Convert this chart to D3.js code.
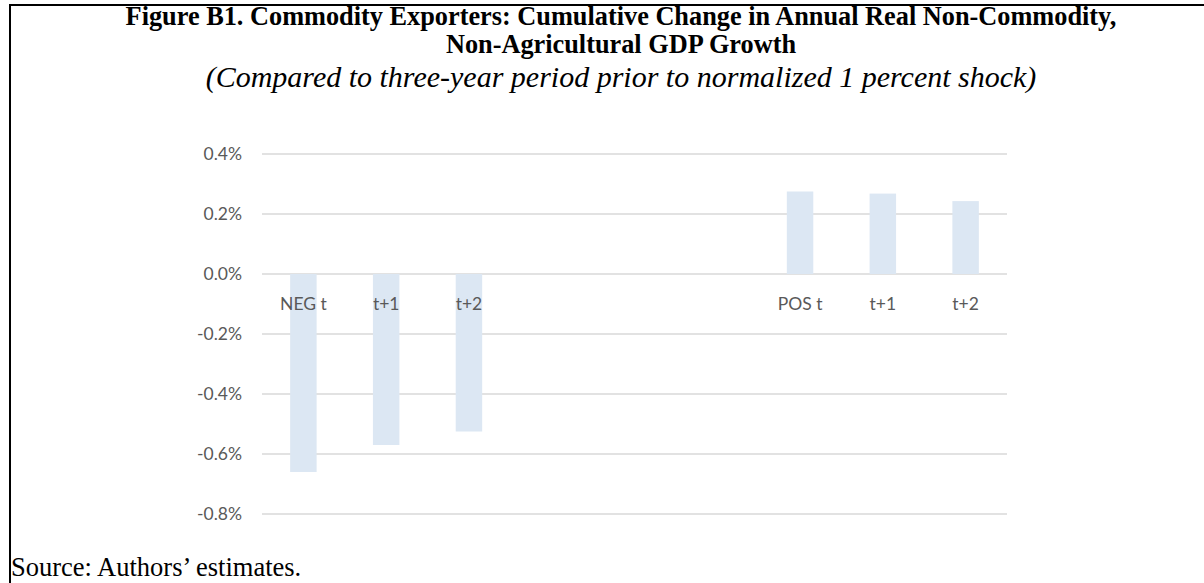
<!DOCTYPE html>
<html>
<head>
<meta charset="utf-8">
<script src="https://cdn.jsdelivr.net/npm/d3@7"></script>
<style>
  html, body { margin: 0; padding: 0; background: #fff; }
  svg { display: block; }
</style>
</head>
<body>
<svg id="chart" width="1204" height="583"></svg>
<script>
// Data
const categories = ['NEG t', 't+1', 't+2', '', '', '', 'POS t', 't+1', 't+2'];
const values = [-0.66, -0.57, -0.525, null, null, null, 0.275, 0.268, 0.243];
const yTicks = [0.4, 0.2, 0.0, -0.2, -0.4, -0.6, -0.8];

const svg = d3.select('#chart');
const width = +svg.attr('width');
const height = +svg.attr('height');
const serif = '"Liberation Serif", "Times New Roman", serif';

// Frame around the figure (right edge runs off the page)
svg.append('path')
    .attr('d', `M10,${height + 2} L10,5 L${width + 2},5`)
    .attr('fill', 'none')
    .attr('stroke', '#000')
    .attr('stroke-width', 2);

// Titles
const cx = 621;
svg.append('text')
    .attr('x', cx).attr('y', 25)
    .attr('text-anchor', 'middle')
    .attr('font-family', serif)
    .attr('font-weight', 'bold')
    .attr('font-size', 26.3)
    .text('Figure B1. Commodity Exporters: Cumulative Change in Annual Real Non-Commodity,');
svg.append('text')
    .attr('x', cx).attr('y', 53)
    .attr('text-anchor', 'middle')
    .attr('font-family', serif)
    .attr('font-weight', 'bold')
    .attr('font-size', 26.3)
    .text('Non-Agricultural GDP Growth');
svg.append('text')
    .attr('x', cx).attr('y', 87)
    .attr('text-anchor', 'middle')
    .attr('font-family', serif)
    .attr('font-style', 'italic')
    .attr('font-size', 30)
    .text('(Compared to three-year period prior to normalized 1 percent shock)');

// Scales
const x = d3.scaleBand()
    .domain(d3.range(categories.length))
    .range([262, 1007])
    .paddingInner(0.68)
    .paddingOuter(0.34);

const y = d3.scaleLinear()
    .domain([-0.8, 0.4])
    .range([514, 154]);

const labelFont = 'Lato, "Open Sans", sans-serif';

// Gridlines
svg.append('g')
    .selectAll('line')
    .data(yTicks)
    .join('line')
    .attr('x1', 262)
    .attr('x2', 1007)
    .attr('y1', d => y(d))
    .attr('y2', d => y(d))
    .attr('stroke', '#d9d9d9')
    .attr('stroke-width', 1.5);

// Y axis labels (plain hyphen for negatives, as in the source)
svg.append('g')
    .selectAll('text')
    .data(yTicks)
    .join('text')
    .attr('x', 242)
    .attr('y', d => y(d))
    .attr('dy', '0.35em')
    .attr('text-anchor', 'end')
    .attr('font-family', labelFont)
    .attr('font-size', 17.5)
    .attr('fill', '#595959')
    .text(d => d.toFixed(1) + '%');

// Bars
const barData = values.map((v, i) => ({ i, v })).filter(d => d.v !== null);
svg.append('g')
    .selectAll('rect')
    .data(barData)
    .join('rect')
    .attr('x', d => x(d.i))
    .attr('width', x.bandwidth())
    .attr('y', d => y(Math.max(0, d.v)))
    .attr('height', d => Math.abs(y(d.v) - y(0)))
    .attr('fill', '#dce7f3');

// Category labels, just under the zero line
svg.append('g')
    .selectAll('text')
    .data(categories.map((c, i) => ({ c, i })).filter(d => d.c !== ''))
    .join('text')
    .attr('x', d => x(d.i) + x.bandwidth() / 2)
    .attr('y', y(0) + 36)
    .attr('text-anchor', 'middle')
    .attr('font-family', labelFont)
    .attr('font-size', 17.5)
    .attr('fill', '#595959')
    .text(d => d.c);

// Source note
svg.append('text')
    .attr('x', 11)
    .attr('y', 576)
    .attr('font-family', serif)
    .attr('font-size', 26.5)
    .attr('fill', '#000')
    .text('Source: Authors’ estimates.');
</script>
</body>
</html>
